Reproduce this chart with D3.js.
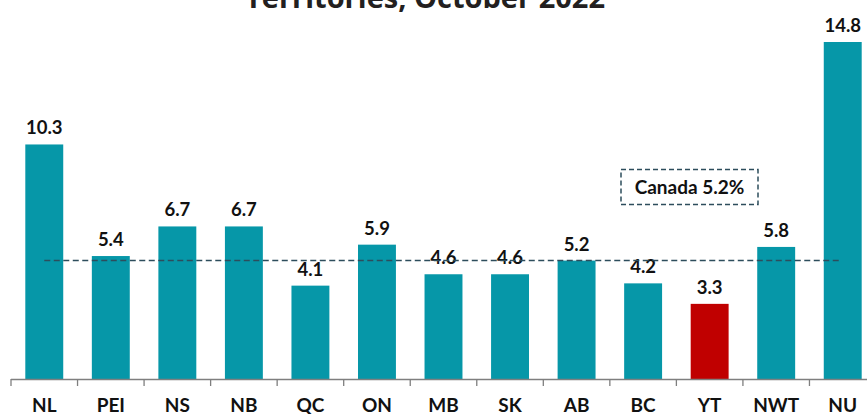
<!DOCTYPE html>
<html><head><meta charset="utf-8">
<script src="https://cdn.jsdelivr.net/npm/d3@7"></script>
<style>body{margin:0;background:#fff;}svg{display:block;}</style>
</head><body>
<script>
const categories = ["NL","PEI","NS","NB","QC","ON","MB","SK","AB","BC","YT","NWT","NU"];
const values = [10.3,5.4,6.7,6.7,4.1,5.9,4.6,4.6,5.2,4.2,3.3,5.8,14.8];
const highlight = ["YT"];
const canadaValue = 5.2;
const canadaLabel = "Canada 5.2%";
const titleText = "Territories, October 2022";

const W = 867, H = 414;
const svg = d3.select("body").append("svg").attr("width", W).attr("height", H);

const x = d3.scaleBand().domain(categories).range([11, 876]).paddingInner(0.43).paddingOuter(0.215);
const y = d3.scaleLinear().domain([0, 14.8]).range([379, 42]);

const font = "Lato, 'Open Sans', sans-serif";

svg.append("text").attr("x", 425).attr("y", 8).attr("text-anchor", "middle")
  .attr("font-family", "'Open Sans', sans-serif").attr("font-weight", 700).attr("font-size", 29)
  .attr("fill", "#231f20").text(titleText);

svg.selectAll("rect.bar").data(categories).join("rect").attr("class","bar")
  .attr("x", d => x(d)).attr("width", x.bandwidth())
  .attr("y", (d,i) => y(values[i])).attr("height", (d,i) => y(0) - y(values[i]))
  .attr("fill", d => highlight.includes(d) ? "#c00000" : "#0697a8");

svg.selectAll("text.val").data(categories).join("text").attr("class","val")
  .attr("x", d => x(d) + x.bandwidth()/2).attr("y", (d,i) => y(values[i]) - 10)
  .attr("text-anchor","middle").attr("font-family", font).attr("font-weight", 700)
  .attr("font-size", 18.5).attr("fill","#111").text((d,i) => values[i].toFixed(1));

// axis
const axis = d3.axisBottom(x).tickSize(0).tickPadding(0);
const g = svg.append("g").attr("transform", `translate(0,${y(0)})`).call(axis);
g.select(".domain").attr("stroke", "#7f7f7f").attr("stroke-width", 1.3).attr("d", `M11,0.5H876`);
g.selectAll(".tick text").attr("font-family", font).attr("font-weight", 700).attr("font-size", 19)
  .attr("fill","#111").attr("y", 32.5).attr("dy", null);
const bounds = categories.map(c => x(c) - x.step()*x.paddingInner()/2).concat([x(categories[categories.length-1]) + x.bandwidth() + x.step()*x.paddingInner()/2]);
g.selectAll("line.tk").data(bounds).join("line").attr("class","tk")
  .attr("x1", d => d).attr("x2", d => d).attr("y1", 0).attr("y2", 7)
  .attr("stroke", "#7f7f7f").attr("stroke-width", 1.3);

// Canada line
svg.append("line").attr("x1", x("NL") + x.bandwidth()/2).attr("x2", x("NU") + x.bandwidth()/2 - 4)
  .attr("y1", y(canadaValue)).attr("y2", y(canadaValue))
  .attr("stroke", "#2d4d5c").attr("stroke-width", 1.5).attr("stroke-dasharray", "6,3.5");

svg.append("rect").attr("x", 621).attr("y", 169.5).attr("width", 137).attr("height", 35)
  .attr("fill", "none").attr("stroke", "#2d4d5c").attr("stroke-width", 1.5).attr("stroke-dasharray", "5,3");
svg.append("text").attr("x", 689.5).attr("y", 194).attr("text-anchor","middle")
  .attr("font-family", font).attr("font-weight", 700).attr("font-size", 19).attr("fill","#111").text(canadaLabel);
</script>
</body></html>
